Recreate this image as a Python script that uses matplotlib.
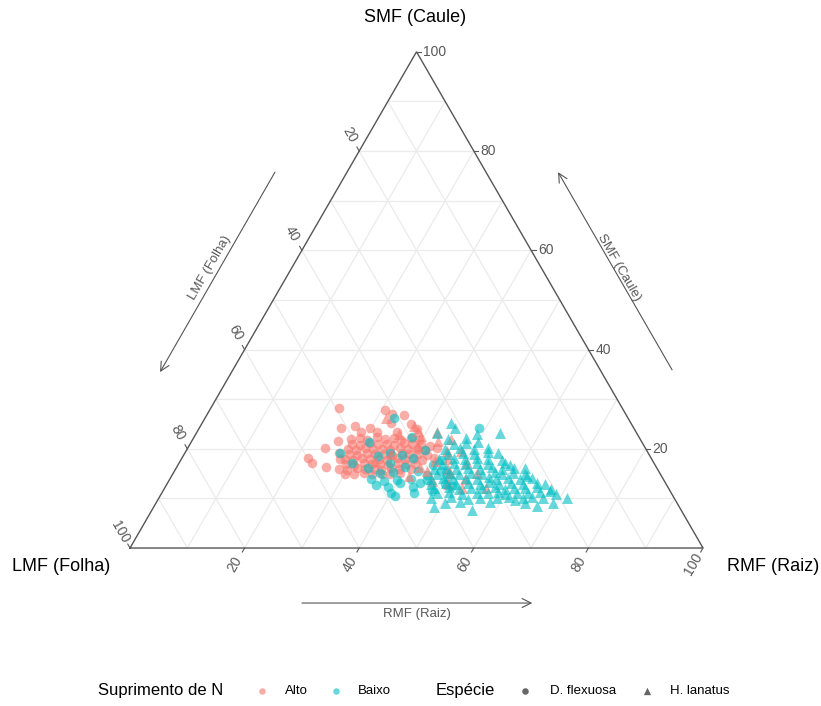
import numpy as np
import matplotlib
matplotlib.use("Agg")
import matplotlib.pyplot as plt

plt.rcParams["font.family"] = ["Liberation Sans", "DejaVu Sans"]

# biomass fractions (%) as (RMF, SMF); LMF is the remainder to 100
alto_flexuosa = [
    (22.3, 28.2), (24.7, 24.2), (24.0, 20.2), (22.0, 18.2), (23.2, 17.2),
    (26.0, 16.3), (26.9, 19.2), (27.6, 18.0), (25.5, 21.6),
    (30.6, 27.8), (32.3, 27.0), (34.5, 26.8), (28.6, 23.4), (29.8, 24.2),
    (31.4, 23.4), (34.9, 23.4), (33.0, 25.2), (36.5, 25.0), (38.0, 24.0),
    (27.0, 24.5),
    (27.5, 22.0), (29.0, 22.2), (30.5, 21.8), (32.0, 22.3), (33.5, 21.9),
    (35.0, 22.1), (36.5, 21.7), (38.0, 22.2), (39.5, 21.8),
    (28.2, 21.0), (29.8, 20.8), (31.3, 21.1), (32.8, 20.9), (34.3, 21.0),
    (35.8, 20.7), (37.3, 21.2), (38.8, 20.9), (40.3, 21.0), (42.0, 20.6),
    (28.0, 20.0), (29.5, 19.8), (31.0, 20.1), (32.5, 19.9), (34.0, 20.0),
    (35.5, 19.7), (37.0, 20.2), (38.5, 19.9), (40.0, 20.0), (41.5, 19.8),
    (43.5, 20.1),
    (28.8, 19.0), (30.3, 18.8), (31.8, 19.1), (33.3, 18.9), (34.8, 19.0),
    (36.3, 18.7), (37.8, 19.2), (39.3, 18.9), (40.8, 19.0), (42.5, 18.8),
    (28.5, 18.0), (30.0, 17.8), (31.5, 18.1), (33.0, 17.9), (34.5, 18.0),
    (36.0, 17.7), (37.5, 18.2), (39.0, 17.9), (40.5, 18.0), (42.0, 17.8),
    (44.0, 18.1),
    (29.2, 17.0), (30.7, 16.8), (32.2, 17.1), (33.7, 16.9), (35.2, 17.0),
    (36.7, 16.7), (38.2, 17.2), (39.7, 16.9), (41.2, 17.0),
    (28.5, 16.0), (30.0, 15.8), (31.5, 16.1), (33.0, 15.9), (34.5, 16.0),
    (36.0, 15.7), (37.5, 16.2), (39.0, 15.9), (41.0, 16.0),
    (30.0, 15.0), (31.6, 14.9), (33.2, 15.1), (34.8, 14.9), (36.4, 15.0),
    (38.0, 14.9), (39.6, 15.1),
]

baixo_flexuosa = [
    (33.0, 26.2), (48.8, 24.2), (27.0, 19.2), (30.2, 17.1), (31.0, 21.4),
    (33.5, 16.1), (36.1, 15.1), (36.8, 17.1), (39.8, 13.7), (40.0, 11.1),
    (44.1, 13.1), (44.5, 14.7), (38.0, 22.4), (35.8, 19.2), (38.1, 18.8),
    (40.4, 18.1), (41.6, 19.8), (38.2, 15.3), (39.8, 16.3), (44.5, 16.7),
    (45.6, 17.7), (48.2, 14.3), (45.0, 13.7), (40.6, 13.1), (43.2, 12.3),
    (48.5, 13.0), (42.0, 14.0), (37.5, 13.5), (35.0, 14.0), (47.0, 11.5),
    (50.0, 12.5), (46.5, 15.5), (34.0, 18.5), (42.5, 15.5), (39.0, 12.2),
    (44.0, 11.0), (36.5, 12.8), (41.0, 10.5),
]

alto_lanatus = [
    (31.6, 26.2), (37.3, 24.6), (41.9, 23.4), (35.5, 23.0), (39.5, 22.6),
    (42.5, 16.3), (48.3, 15.1), (50.3, 17.1), (53.0, 15.1), (56.0, 12.1),
    (40.0, 20.5), (43.0, 21.5), (45.5, 19.5), (44.5, 17.5), (46.5, 18.0),
    (47.5, 16.0), (41.5, 14.5), (44.0, 15.5), (46.0, 13.5), (49.0, 13.0),
    (51.5, 14.0), (38.5, 23.5), (45.0, 22.0), (48.0, 19.5), (52.0, 12.0),
    (36.0, 19.0), (34.0, 17.5),
]

baixo_lanatus = [
    (55.8, 7.7), (48.9, 8.3), (66.8, 8.5),
    (50.5, 9.0), (53.0, 9.2), (58.2, 9.3), (62.4, 9.7), (69.3, 9.1), (64.5, 9.0),
    (47.5, 10.0), (51.0, 10.2), (54.0, 9.9), (56.0, 10.1), (59.0, 10.0),
    (61.0, 10.3), (63.5, 10.0), (65.0, 10.2), (67.0, 10.0), (71.2, 10.1),
    (48.0, 11.0), (50.0, 11.2), (52.5, 10.9), (55.0, 11.1), (57.0, 11.0),
    (58.5, 11.3), (60.0, 10.9), (62.0, 11.1), (64.0, 11.0), (66.0, 11.2),
    (67.5, 11.5), (69.0, 10.8),
    (47.0, 12.0), (49.5, 12.2), (51.5, 11.9), (53.5, 12.1), (55.5, 12.0),
    (57.5, 12.3), (59.5, 11.9), (61.0, 12.1), (63.0, 12.0), (65.0, 12.2),
    (67.5, 11.9),
    (46.0, 13.0), (48.5, 13.2), (50.5, 12.9), (52.5, 13.1), (54.5, 13.0),
    (56.0, 13.3), (58.0, 12.9), (60.0, 13.1), (62.0, 13.0), (64.5, 13.2),
    (66.0, 13.0),
    (45.5, 14.0), (47.5, 14.2), (49.5, 13.9), (51.5, 14.1), (53.5, 14.0),
    (55.5, 14.3), (57.0, 13.9), (59.0, 14.1), (61.0, 14.0), (63.0, 14.2),
    (46.0, 15.0), (48.0, 15.2), (50.0, 14.9), (52.0, 15.1), (54.0, 15.0),
    (56.0, 15.3), (57.5, 14.9), (59.3, 15.1), (61.5, 15.0), (62.0, 14.5),
    (45.0, 16.0), (47.0, 16.2), (49.0, 15.9), (51.0, 16.1), (53.0, 16.0),
    (55.0, 16.3), (57.0, 15.9), (59.0, 16.1), (60.9, 16.1),
    (46.0, 17.0), (48.0, 17.2), (50.0, 16.9), (52.0, 17.1), (54.0, 17.0),
    (56.9, 17.1), (58.0, 16.8),
    (45.0, 18.0), (47.5, 18.2), (49.5, 17.9), (51.5, 18.1), (53.5, 18.0),
    (56.0, 17.8),
    (46.0, 19.0), (48.5, 19.2), (50.5, 18.9), (52.8, 19.4), (54.6, 19.2),
    (45.0, 20.0), (47.5, 20.2), (50.0, 19.9), (52.5, 20.1),
    (46.0, 21.0), (48.0, 21.2), (50.0, 21.4),
    (44.5, 22.0), (47.5, 22.2),
    (53.0, 23.2), (49.0, 23.0), (44.6, 24.2), (43.4, 25.2), (42.0, 23.2),
]

tick_vals = [20, 40, 60, 80, 100]
grid_vals = [10, 20, 30, 40, 50, 60, 70, 80, 90]

pink = "#F8766D"
teal = "#00BFC4"
H = np.sqrt(3) / 2


def tern(rmf, smf):
    """Ternary (RMF, SMF) -> cartesian, LMF corner at origin."""
    rmf = np.asarray(rmf, dtype=float)
    smf = np.asarray(smf, dtype=float)
    return rmf + smf / 2, smf * H


fig = plt.figure(figsize=(8.21, 7.06), dpi=100)
ax = fig.add_axes([0, 0, 1, 1])
ax.set_xlim(-22.69, 120.59)
ax.set_ylim(-27.57, 95.64)
ax.axis("off")

# grid inside the triangle
for v in grid_vals:
    for a, b in [((0, v), (100 - v, v)),
                 ((v, 0), (v, 100 - v)),
                 ((100 - v, 0), (0, 100 - v))]:
        x0, y0 = tern(*a)
        x1, y1 = tern(*b)
        ax.plot([x0, x1], [y0, y1], color="#ebebeb", lw=0.9, zorder=1)

cx, cy = tern([0, 100, 0, 0], [0, 0, 100, 0])
ax.plot(cx, cy, color="#555555", lw=1.0, zorder=2, solid_joinstyle="miter")

tick_col = "#595959"
d_rmf = np.array([-0.5, -H])
d_lmf = np.array([-0.5, H])
for v in tick_vals:
    # RMF along the bottom edge
    p = np.array(tern(v, 0))
    q = p + d_rmf * 0.8
    ax.plot([p[0], q[0]], [p[1], q[1]], color=tick_col, lw=0.8)
    t = p + d_rmf * 3.3
    ax.text(t[0], t[1], str(v), rotation=60, ha="center", va="center",
            rotation_mode="anchor", fontsize=10, color=tick_col)
    # LMF along the left edge
    p = np.array(tern(0, 100 - v))
    q = p + d_lmf * 0.8
    ax.plot([p[0], q[0]], [p[1], q[1]], color=tick_col, lw=0.8)
    t = p + d_lmf * 3.3
    ax.text(t[0], t[1], str(v), rotation=-60, ha="center", va="center",
            rotation_mode="anchor", fontsize=10, color=tick_col)
    # SMF along the right edge
    p = np.array(tern(100 - v, v))
    ax.plot([p[0], p[0] + 0.8], [p[1], p[1]], color=tick_col, lw=0.8)
    ax.text(p[0] + 1.2, p[1], str(v), ha="left", va="center",
            fontsize=10, color=tick_col)

# points
groups = [
    (alto_flexuosa, pink, "o", 48),
    (baixo_flexuosa, teal, "o", 48),
    (alto_lanatus, pink, "^", 62),
    (baixo_lanatus, teal, "^", 62),
]
for pts, col, mk, s in groups:
    arr = np.array(pts)
    x, y = tern(arr[:, 0], arr[:, 1])
    ax.scatter(x, y, s=s, c=col, marker=mk, alpha=0.6, linewidths=0, zorder=3)

# vertex titles
ax.text(49.7, 92.5, "SMF (Caule)", ha="center", va="center", fontsize=13)
ax.text(-12.0, -3.3, "LMF (Folha)", ha="center", va="center", fontsize=13)
ax.text(112.2, -3.3, "RMF (Raiz)", ha="center", va="center", fontsize=13)

# direction arrows
arrow_kw = dict(arrowstyle="->", color="#555555", lw=0.8,
                mutation_scale=16, shrinkA=0, shrinkB=0)
ax.annotate("", xy=(5.24, 30.7), xytext=(25.3, 65.6), arrowprops=arrow_kw)
ax.text(14.0, 48.9, "LMF (Folha)", rotation=60, ha="center", va="center",
        rotation_mode="anchor", fontsize=9.5, color=tick_col)
ax.annotate("", xy=(74.7, 65.6), xytext=(94.6, 31.1), arrowprops=arrow_kw)
ax.text(85.4, 49.0, "SMF (Caule)", rotation=-60, ha="center", va="center",
        rotation_mode="anchor", fontsize=9.5, color=tick_col)
ax.annotate("", xy=(70.2, -9.6), xytext=(30.0, -9.6), arrowprops=arrow_kw)
ax.text(50.1, -11.6, "RMF (Raiz)", ha="center", va="center",
        fontsize=9.5, color=tick_col)

# legend row
ly = 1 - 691 / 706
fig.text(98 / 821, ly, "Suprimento de N", ha="left", va="center", fontsize=12)
fig.text(436 / 821, ly, "Espécie", ha="left", va="center", fontsize=12)
keys = [
    (262, pink, "o", 22, "Alto", 285),
    (336, teal, "o", 22, "Baixo", 358),
    (525, "black", "o", 22, "D. flexuosa", 550),
    (647, "black", "^", 28, "H. lanatus", 670),
]
for kx, col, mk, s, lab, tx in keys:
    ax.scatter([kx / 821], [ly], s=s, c=col, marker=mk, alpha=0.6,
               linewidths=0, transform=fig.transFigure, clip_on=False)
    fig.text(tx / 821, ly, lab, ha="left", va="center", fontsize=9.5)

fig.savefig("out.png", dpi=100)
